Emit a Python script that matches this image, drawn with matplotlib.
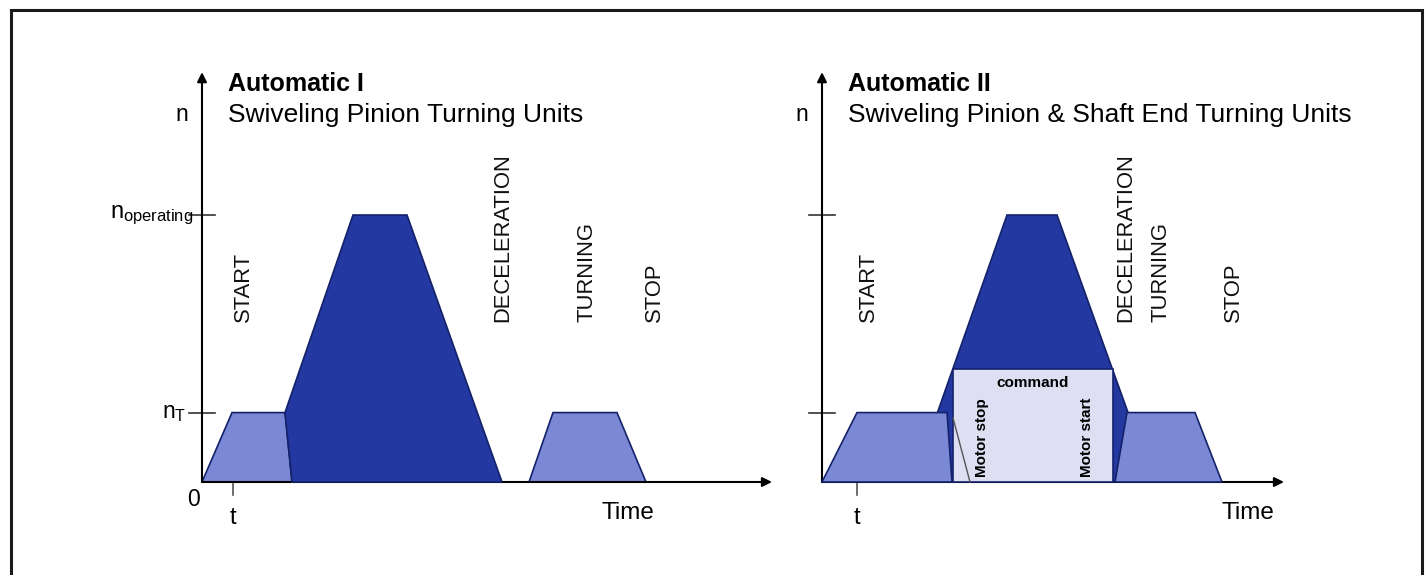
import matplotlib.pyplot as plt
from matplotlib.patches import Rectangle

# Speed levels (relative, n_operating = 100)
n_turn = 26
n_op = 100
n_cmd = 42.3

# Automatic I profiles (time, speed)
start1_t = [0, 3.0, 8.3, 9.0]
start1_n = [0, n_turn, n_turn, 0]
run1_t = [9.0, 8.3, 15.1, 20.5, 30.0]
run1_n = [0, n_turn, n_op, n_op, 0]
turn1_t = [32.7, 35.1, 41.5, 44.4]
turn1_n = [0, n_turn, n_turn, 0]

# Automatic II profiles
start2_t = [0, 3.5, 12.5, 13.0]
start2_n = [0, n_turn, n_turn, 0]
run2_t = [9.1, 18.5, 23.5, 33.1]
run2_n = [0, n_op, n_op, 0]
cmd_t = [13.1, 29.1]
turn2_t = [29.3, 30.5, 37.3, 40.0]
turn2_n = [0, n_turn, n_turn, 0]

# Phase labels: (text, x position)
phases1 = [("START", 4.1), ("DECELERATION", 30.1), ("TURNING", 38.5), ("STOP", 45.2)]
phases2 = [("START", 4.6), ("DECELERATION", 30.4), ("TURNING", 33.9), ("STOP", 41.1)]

titles = [("Automatic I", "Swiveling Pinion Turning Units"),
          ("Automatic II", "Swiveling Pinion & Shaft End Turning Units")]

dark = '#2338a0'
light = '#7a88d6'
edge = '#14226a'
box_col = '#dedff2'
sans = ['Liberation Sans', 'DejaVu Sans']

W, H = 1426, 575
fig = plt.figure(figsize=(W / 100, H / 100), dpi=100)
fig.patch.set_facecolor('white')

# frame (left, top, right; bottom runs off the image)
fig.add_artist(Rectangle((10.5 / W, -0.1), (1422 - 10.5) / W, 1.1 - 9.5 / H,
                         transform=fig.transFigure, fill=False,
                         edgecolor='#1a1a1a', linewidth=2.2))

# 1 time unit = 10 px, 100 n = 267 px; origins at (202,482) and (822,482)
xlim = (-10.2, 59.8)
ylim = ((482 - 560) / 2.67, (482 - 40) / 2.67)


def make_ax(origin_px):
    left = origin_px + xlim[0] * 10
    ax = fig.add_axes([left / W, (H - 560) / H, 700 / W, 520 / H])
    ax.set_xlim(*xlim)
    ax.set_ylim(*ylim)
    ax.axis('off')
    return ax


def draw_axes(ax, x_end, y_top):
    ax.annotate('', xy=(x_end, 0), xytext=(0, 0),
                arrowprops=dict(arrowstyle='-|>', color='black', lw=1.5,
                                mutation_scale=14, shrinkA=0, shrinkB=0))
    ax.annotate('', xy=(0, y_top), xytext=(0, 0),
                arrowprops=dict(arrowstyle='-|>', color='black', lw=1.5,
                                mutation_scale=14, shrinkA=0, shrinkB=0))
    for yv in (n_turn, n_op):
        ax.plot([-1.3, 1.3], [yv, yv], color='#333333', lw=1.2)
    ax.text(-1.4, 137.5, 'n', fontsize=16.5, family=sans, ha='right', va='center')


def phase_labels(ax, phases):
    for txt, x in phases:
        ax.text(x, 59.9, txt, rotation=90, ha='center', va='bottom',
                fontsize=15.8, family=sans, color='#111111')


# ---- Automatic I ----
ax1 = make_ax(202)
draw_axes(ax1, 57.0, 153.5)
ax1.fill(start1_t, start1_n, facecolor=light, edgecolor=edge, lw=1.2, zorder=2)
ax1.fill(run1_t, run1_n, facecolor=dark, edgecolor=edge, lw=1.2, zorder=3)
ax1.fill(turn1_t, turn1_n, facecolor=light, edgecolor=edge, lw=1.2, zorder=2)
ax1.text(-0.9, n_op, r'$\mathregular{n_{operating}}$', fontsize=17, family=sans,
         ha='right', va='center')
ax1.text(-1.6, n_turn, r'$\mathregular{n_{T}}$', fontsize=16.5, family=sans,
         ha='right', va='center')
ax1.text(-0.9, -6.7, '0', fontsize=16.5, family=sans, ha='center', va='center')
phase_labels(ax1, phases1)

# ---- Automatic II ----
ax2 = make_ax(822)
draw_axes(ax2, 46.2, 153.5)
ax2.fill(run2_t, run2_n, facecolor=dark, edgecolor=edge, lw=1.2, zorder=2)
ax2.fill(start2_t, start2_n, facecolor=light, edgecolor=edge, lw=1.2, zorder=3)
ax2.fill(turn2_t, turn2_n, facecolor=light, edgecolor=edge, lw=1.2, zorder=3)
ax2.fill([cmd_t[0], cmd_t[0], cmd_t[1], cmd_t[1]], [0, n_cmd, n_cmd, 0],
         facecolor=box_col, edgecolor=edge, lw=1.2, zorder=4)
ax2.plot([cmd_t[0], cmd_t[0] + 1.7], [n_turn - 2, 0], color='#555555', lw=1, zorder=5)
ax2.text(21.1, 37.1, 'command', fontsize=11, fontweight='bold', family=sans,
         ha='center', va='center', zorder=6)
ax2.text(16.0, 1.9, 'Motor stop', rotation=90, fontsize=11, fontweight='bold',
         family=sans, ha='center', va='bottom', zorder=6)
ax2.text(26.5, 1.9, 'Motor start', rotation=90, fontsize=11, fontweight='bold',
         family=sans, ha='center', va='bottom', zorder=6)
phase_labels(ax2, phases2)

for ax, (bold, sub), tx in ((ax1, titles[0], 3.1), (ax2, titles[1], 3.5)):
    ax.text(2.6, 149.2, bold, fontsize=18, fontweight='bold', family=sans,
            ha='left', va='center')
    ax.text(2.6, 137.5, sub, fontsize=19, family=sans, ha='left', va='center')
    ax.plot([tx, tx], [0, -5], color='#555555', lw=1.2, zorder=1)
    ax.text(tx, -13.5, 't', fontsize=17, family=sans, ha='center', va='center')
    ax.text(42.6, -11.6, 'Time', fontsize=17.5, family=sans, ha='center', va='center')

fig.savefig('out.png', dpi=100)
